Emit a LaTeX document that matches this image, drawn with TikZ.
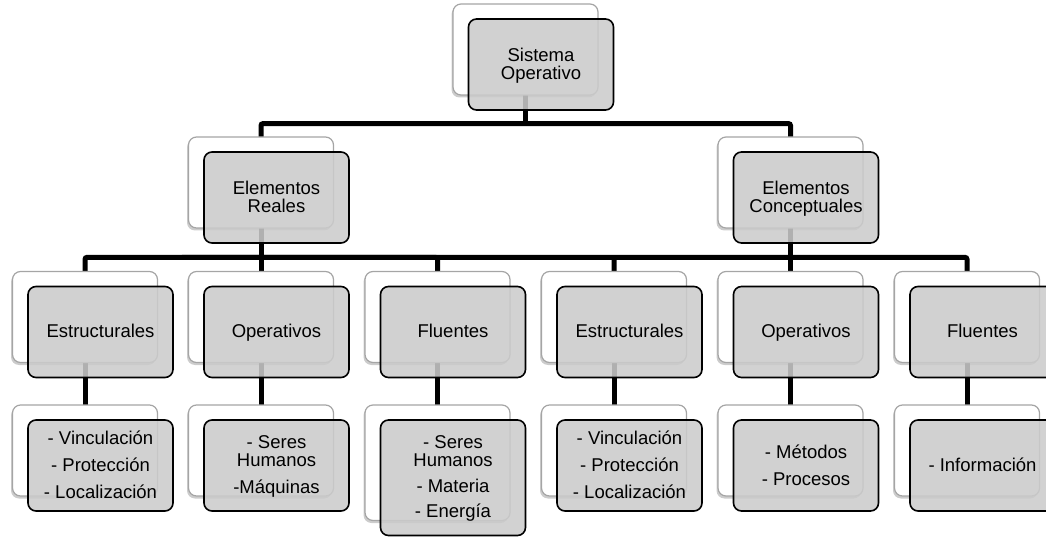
\documentclass[tikz,border=0pt]{standalone}
\usepackage{fontspec}
\setmainfont{Liberation Sans}
\usetikzlibrary{positioning,calc,shadows}
\definecolor{cardgray}{RGB}{203,203,203}
\definecolor{edgegray}{RGB}{165,165,165}
\pgfdeclarelayer{bg}
\pgfsetlayers{bg,main}

\begin{document}
\begin{tikzpicture}[
    x=1pt, y=-1pt,
    cardback/.style={rectangle, draw=edgegray, line width=1.2pt, fill=white, rounded corners=8pt, minimum width=145pt, minimum height=91pt, inner sep=0pt, drop shadow={shadow xshift=-1.5pt, shadow yshift=-2.5pt, fill=black, opacity=0.2}},
    card/.style={rectangle, draw=black, line width=1.6pt, fill=cardgray, fill opacity=0.87, text opacity=1, rounded corners=8pt, minimum width=145pt, minimum height=91pt, inner sep=0pt, align=center, text depth=1.5pt, font=\fontsize{18.5}{18}\selectfont},
    tall/.style={minimum height=115.5pt},
    link/.style={line width=5pt, rounded corners=2pt}
]
\path[use as bounding box] (0,0) rectangle (1046,537);
\clip (0,0) rectangle (1046,537);

% top
\node [cardback] (so-b) at (525.5,49.5) {};
\node [card] (so) at ([shift={(15.5,15)}]so-b) {Sistema\\Operativo};

% second row
\node [cardback] (er-b) at (261,182.5) {};
\node [card] (er) at ([shift={(15.5,15)}]er-b) {Elementos\\Reales};
\node [cardback] (ec-b) at (790.5,182.5) {};
\node [card] (ec) at ([shift={(15.5,15)}]ec-b) {Elementos\\Conceptuales};

% third row
\node [cardback] (re-b) at (85,317) {};
\node [card] (re) at ([shift={(15.5,15)}]re-b) {Estructurales};
\node [cardback] (ro-b) at (261,317) {};
\node [card] (ro) at ([shift={(15.5,15)}]ro-b) {Operativos};
\node [cardback] (rf-b) at (437.5,317) {};
\node [card] (rf) at ([shift={(15.5,15)}]rf-b) {Fluentes};
\node [cardback] (ce-b) at (614,317) {};
\node [card] (ce) at ([shift={(15.5,15)}]ce-b) {Estructurales};
\node [cardback] (co-b) at (790.5,317) {};
\node [card] (co) at ([shift={(15.5,15)}]co-b) {Operativos};
\node [cardback] (cf-b) at (967,317) {};
\node [card] (cf) at ([shift={(15.5,15)}]cf-b) {Fluentes};

% lists
\node [cardback] (re-list-b) at (85,450.5) {};
\node [card] (re-list) at ([shift={(15.5,15)}]re-list-b) {- Vinculación\\[9pt]- Protección\\[9pt]- Localización};
\node [cardback] (ro-list-b) at (261,450.5) {};
\node [card] (ro-list) at ([shift={(15.5,15)}]ro-list-b) {- Seres\\Humanos\\[9pt]-Máquinas};
\node [cardback, tall] (rf-list-b) at (437.5,462.75) {};
\node [card, tall] (rf-list) at ([shift={(15.5,15)}]rf-list-b) {- Seres\\Humanos\\[8pt]- Materia\\[7pt]- Energía};
\node [cardback] (ce-list-b) at (614,450.5) {};
\node [card] (ce-list) at ([shift={(15.5,15)}]ce-list-b) {- Vinculación\\[9pt]- Protección\\[9pt]- Localización};
\node [cardback] (co-list-b) at (790.5,450.5) {};
\node [card] (co-list) at ([shift={(15.5,15)}]co-list-b) {- Métodos\\[9pt]- Procesos};
\node [cardback] (cf-list-b) at (967,450.5) {};
\node [card] (cf-list) at ([shift={(15.5,15)}]cf-list-b) {- Información};

\begin{pgfonlayer}{bg}
\coordinate (bar1) at ($(so.south)!.5!(er-b.north)$);
\coordinate (bar2) at ($(er.south)!.5!(re-b.north)$);
\draw [link] (so-b.center) -- (so-b.center |- bar1);
\draw [link] (er-b.center) |- (bar1) -| (ec-b.center);
\draw [link] (re-b.center) |- (bar2) -| (rf-b.center);
\draw [link] (er-b.center) -- (ro-b.center);
\draw [link] (ce-b.center) |- (bar2) -| (cf-b.center);
\draw [link] (ec-b.center) -- (co-b.center);
\draw [link] (re-b.center) -- (re-list-b.center);
\draw [link] (ro-b.center) -- (ro-list-b.center);
\draw [link] (rf-b.center) -- (rf-list-b.center);
\draw [link] (ce-b.center) -- (ce-list-b.center);
\draw [link] (co-b.center) -- (co-list-b.center);
\draw [link] (cf-b.center) -- (cf-list-b.center);
\end{pgfonlayer}
\end{tikzpicture}
\end{document}
